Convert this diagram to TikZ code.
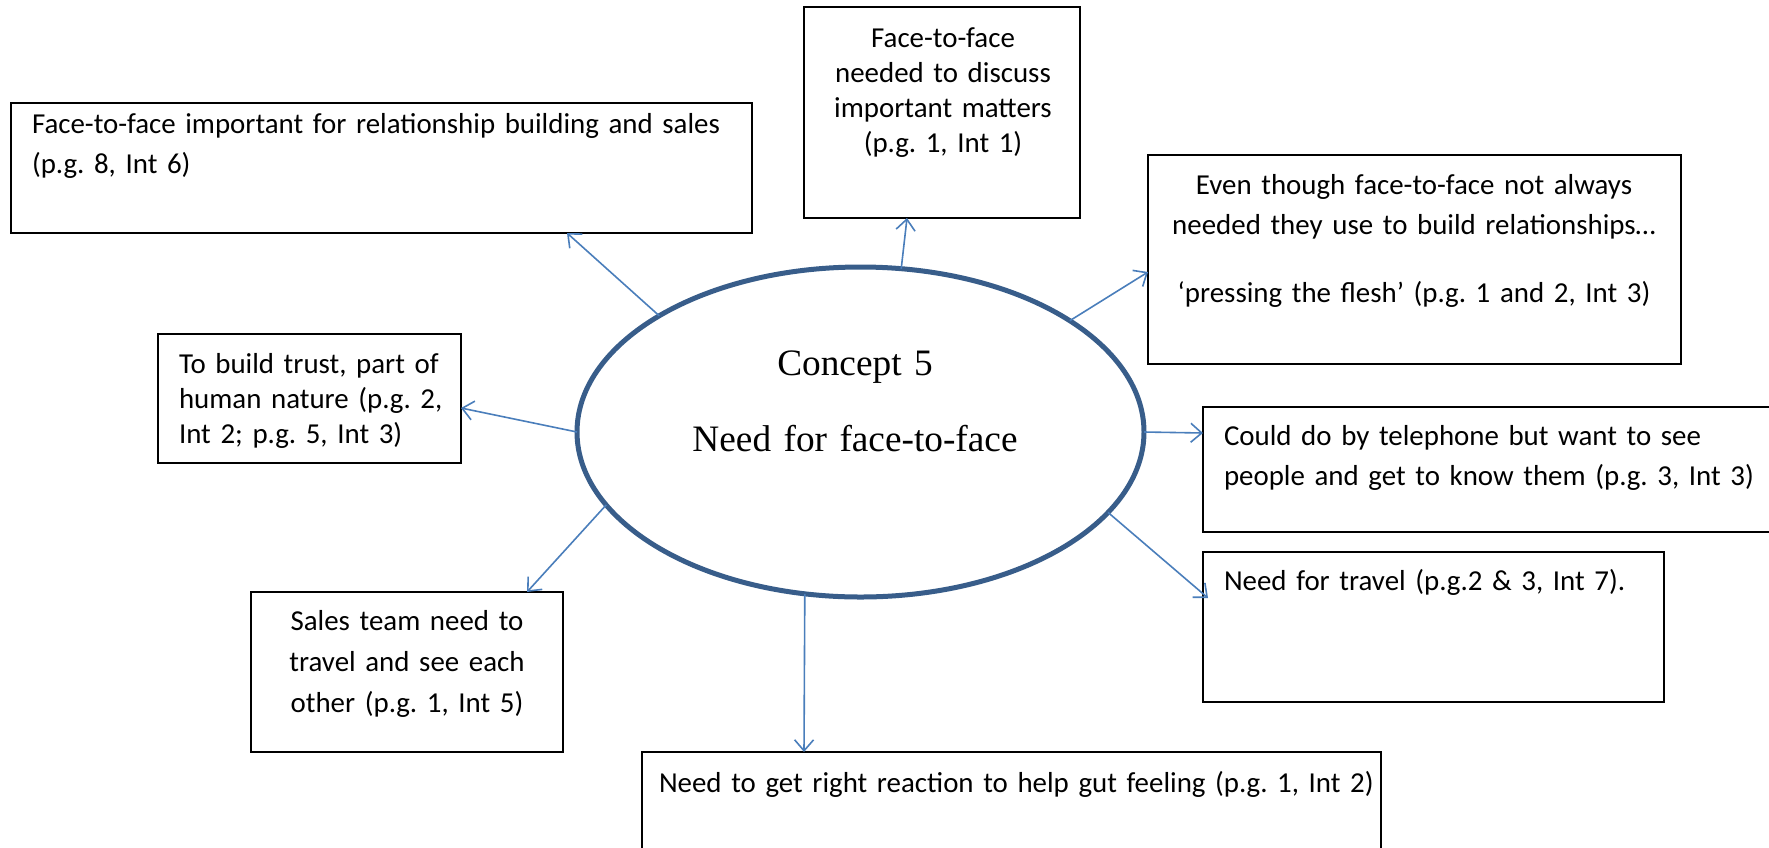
\documentclass[tikz,border=0pt]{standalone}
\usepackage{fontspec}
\setmainfont{Carlito}
\newfontfamily\serifface{Liberation Serif}
\usetikzlibrary{shapes.geometric,arrows.meta,calc}
\definecolor{ovalblue}{HTML}{385D8A}
\definecolor{linkblue}{HTML}{4A7EBB}
\frenchspacing
\begin{document}
\begin{tikzpicture}[x=1pt,y=-1pt,
  box/.style={draw=black,line width=1.8pt,rectangle,inner sep=0pt,outer sep=0pt},
  note/.style={inner sep=0pt,outer sep=0pt,font=\fontsize{28.9}{#1}\selectfont},
  lnote/.style={note=#1,align=left,anchor=base west},
  cnote/.style={note=#1,align=center,anchor=base},
  link/.style={draw=linkblue,line width=1.6pt,-{Straight Barb[length=11pt,width=19pt]}}
]
\useasboundingbox (0,0) rectangle (1769,847);

% central concept
\node[draw=ovalblue,line width=5pt,ellipse,minimum width=567pt,minimum height=330pt,
      inner sep=0pt,outer sep=0pt] (c) at (860.5,432) {};
\node[inner sep=0pt,text width=420pt,align=center,anchor=base,
      font=\serifface\fontsize{37.3}{76}\selectfont] (ct) at (855,375)
  {Concept 5\\Need for face-to-face};

% surrounding boxes
\node[box,minimum width=741pt,minimum height=130pt] (b1) at (381.5,168) {};
\node[box,minimum width=276pt,minimum height=211pt] (b2) at (942,112.5) {};
\node[box,minimum width=533pt,minimum height=209pt] (b3) at (1414.5,259.5) {};
\node[box,minimum width=303pt,minimum height=129pt] (b4) at (309.5,398.5) {};
\node[box,minimum width=577pt,minimum height=125pt] (b5) at (1491.5,469.5) {};
\node[box,minimum width=461pt,minimum height=150pt] (b6) at (1433.5,627) {};
\node[box,minimum width=312pt,minimum height=160pt] (b7) at (407,672) {};
\node[box,minimum width=739pt,minimum height=108pt] (b8) at (1011.5,806) {};

% box texts
\node[lnote=40,text width=900pt] (t1) at (32,133)
  {Face-to-face important for relationship building and sales\\(p.g. 8, Int 6)};
\node[cnote=35.3,text width=400pt] (t2) at (943,47)
  {Face-to-face\\needed to discuss\\important matters\\(p.g. 1, Int 1)};
\node[cnote=40,text width=700pt] (t3) at (1414,194)
  {Even though face-to-face not always\\needed they use to build relationships…\\[28pt]‘pressing the flesh’ (p.g. 1 and 2, Int 3)};
\node[lnote=35,text width=400pt] (t4) at (179,373)
  {To build trust, part of\\human nature (p.g. 2,\\Int 2; p.g. 5, Int 3)};
\node[lnote=40,text width=800pt] (t5) at (1224,445)
  {Could do by telephone but want to see\\people and get to know them (p.g. 3, Int 3)};
\node[lnote=40,text width=600pt] (t6) at (1224,590)
  {Need for travel (p.g.2 \& 3, Int 7).};
\node[cnote=41,text width=400pt] (t7) at (407,630)
  {Sales team need to\\travel and see each\\other (p.g. 1, Int 5)};
\node[lnote=40,text width=900pt] (t8) at (659,792)
  {Need to get right reaction to help gut feeling (p.g. 1, Int 2)};

% connectors
\draw[link] (c.150) -- ($(b1.south west)+(556,0)$);
\draw[link] (c.76)  -- ($(b2.south west)+(103,0)$);
\draw[link] (c.28)  -- ($(b3.north west)+(0,117)$);
\draw[link] (c.180) -- ($(b4.north east)+(0,74)$);
\draw[link] (c.0)   -- ($(b5.north west)+(0,26)$);
\draw[link] (c.342) -- ($(b6.north west)+(5,46)$);
\draw[link] (c.196) -- ($(b7.north west)+(276,0)$);
\draw[link] (c.251) -- ($(b8.north west)+(162,0)$);
\end{tikzpicture}
\end{document}
